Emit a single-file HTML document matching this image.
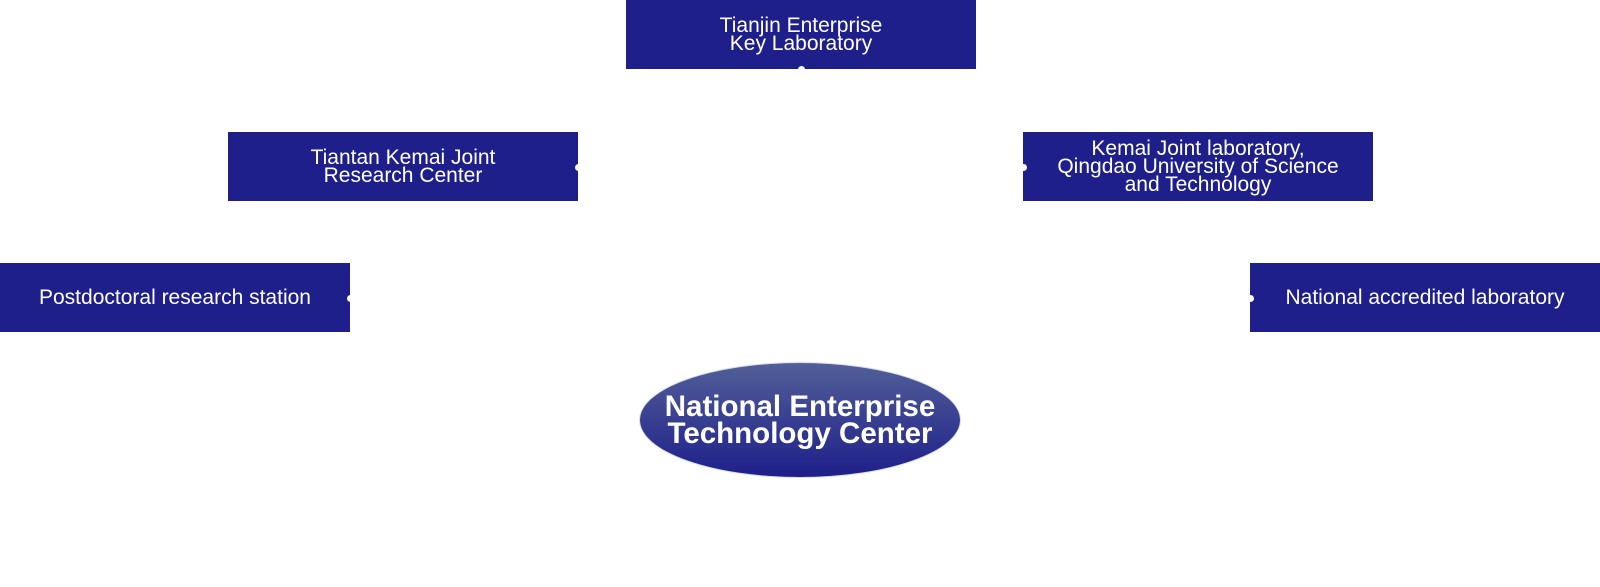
<!DOCTYPE html>
<html><head><meta charset="utf-8"><style>
body{margin:0;width:1600px;height:587px;background:#fff;position:relative;overflow:hidden;font-family:"Liberation Sans","DejaVu Sans",sans-serif;}
.b{position:absolute;width:350px;height:69px;background:#1e1f8a;color:#fff;display:flex;align-items:center;justify-content:center;text-align:center;font-size:21px;line-height:18px;}
.d{position:absolute;width:7px;height:7px;border-radius:50%;background:#fff;}
.e{position:absolute;left:640px;top:363px;width:320px;height:114px;border-radius:50%;background:linear-gradient(#525f97,#1e1f8a);box-shadow:0 0 0 1px #d8dcf0;color:#fff;font-weight:bold;font-size:29.5px;line-height:27px;display:flex;align-items:center;justify-content:center;text-align:center;}
</style></head><body>
<div class="b" style="left:626px;top:0">Tianjin Enterprise<br>Key Laboratory</div>
<div class="b" style="left:228px;top:132px">Tiantan Kemai Joint<br>Research Center</div>
<div class="b" style="left:1023px;top:132px">Kemai Joint laboratory,<br>Qingdao University of Science<br>and Technology</div>
<div class="b" style="left:0;top:263px">Postdoctoral research station</div>
<div class="b" style="left:1250px;top:263px">National accredited laboratory</div>
<div class="d" style="left:798px;top:66px"></div>
<div class="d" style="left:575px;top:164px"></div>
<div class="d" style="left:1020px;top:164px"></div>
<div class="d" style="left:347px;top:295px"></div>
<div class="d" style="left:1247px;top:295px"></div>
<div class="e">National Enterprise<br>Technology Center</div>
</body></html>
